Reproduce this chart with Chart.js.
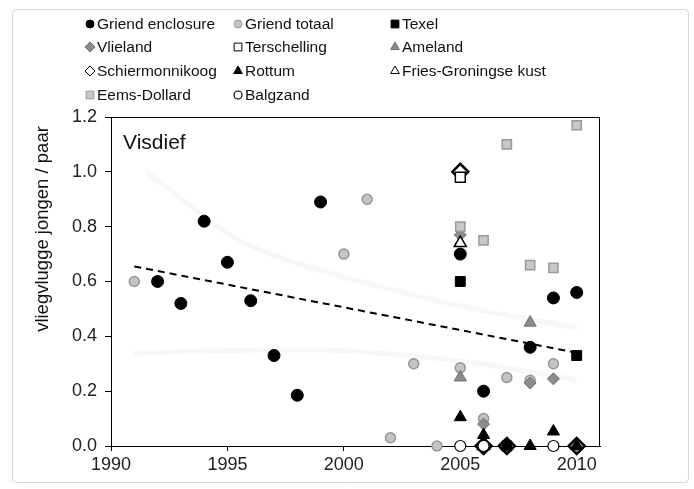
<!DOCTYPE html>
<html lang="nl">
<head>
<meta charset="UTF-8">
<title>Visdief — vliegvlugge jongen per paar</title>
<script src="https://cdn.jsdelivr.net/npm/chart.js@4.4.7/dist/chart.umd.min.js"></script>
<style>
*{box-sizing:border-box;margin:0;padding:0}
html,body{width:694px;height:489px;background:#fff;overflow:hidden}
.wrap{position:relative;width:694px;height:489px}
</style>
</head>
<body>
<div class="wrap"><canvas id="chart" width="694" height="489"></canvas></div>
<script>
// broedsucces per kolonie (vliegvlugge jongen / paar)
const griendEnclosureX = [1992, 1993, 1994, 1995, 1996, 1997, 1998, 1999, 2005, 2006, 2008, 2009, 2010];
const griendEnclosureY = [0.60, 0.52, 0.82, 0.67, 0.53, 0.33, 0.185, 0.89, 0.70, 0.20, 0.36, 0.54, 0.56];
const griendTotaalX = [1991, 2000, 2001, 2002, 2003, 2004, 2005, 2006, 2007, 2008, 2009];
const griendTotaalY = [0.60, 0.70, 0.90, 0.03, 0.30, 0.00, 0.285, 0.10, 0.25, 0.24, 0.30];
const texelX = [2005, 2007, 2010];
const texelY = [0.60, 0.00, 0.33];
const vlielandX = [2005, 2006, 2008, 2009, 2010];
const vlielandY = [0.77, 0.08, 0.23, 0.245, 0.00];
const terschellingX = [2005];
const terschellingY = [0.98];
const amelandX = [2005, 2008];
const amelandY = [0.25, 0.45];
const schiermonnikoogX = [2005, 2006, 2007, 2010];
const schiermonnikoogY = [1.00, 0.00, 0.00, 0.00];
const rottumX = [2005, 2006, 2007, 2008, 2009, 2010];
const rottumY = [0.105, 0.04, 0.00, 0.00, 0.053, 0.00];
const friesGroningseX = [2005, 2006];
const friesGroningseY = [0.74, 0.00];
const eemsDollardX = [2005, 2006, 2007, 2008, 2009, 2010];
const eemsDollardY = [0.80, 0.75, 1.10, 0.66, 0.65, 1.17];
const balgzandX = [2005, 2006, 2009];
const balgzandY = [0.00, 0.00, 0.00];

// trendlijn Griend enclosure
const trendX = [1991, 2010];
const trendY = [0.655, 0.34];

// vage lijnen op de achtergrond
const faintAX = [1991.5, 1996, 2004, 2010];
const faintAY = [1.00, 0.73, 0.53, 0.43];
const faintBX = [1991, 1999, 2005, 2010];
const faintBY = [0.34, 0.35, 0.31, 0.24];

const xTicks = [1990, 1995, 2000, 2005, 2010];

const FONT = '"Liberation Sans", Arial, Helvetica, sans-serif';

const series = [
  { label: 'Griend enclosure', x: griendEnclosureX, y: griendEnclosureY, shape: 'circle', r: 6, fill: '#000', stroke: '#000', lw: 1 },
  { label: 'Griend totaal', x: griendTotaalX, y: griendTotaalY, shape: 'circle', r: 5, fill: '#c4c4c4', stroke: '#969696', lw: 1.5 },
  { label: 'Texel', x: texelX, y: texelY, shape: 'rect', r: 7, fill: '#000', stroke: '#000', lw: 1 },
  { label: 'Vlieland', x: vlielandX, y: vlielandY, shape: 'rectRot', r: 6, fill: '#8c8c8c', stroke: '#6e6e6e', lw: 1 },
  { label: 'Terschelling', x: terschellingX, y: terschellingY, shape: 'rect', r: 7, fill: '#fff', stroke: '#000', lw: 1.5 },
  { label: 'Ameland', x: amelandX, y: amelandY, shape: 'triangle', r: 7, fill: '#8c8c8c', stroke: '#6e6e6e', lw: 1 },
  { label: 'Schiermonnikoog', x: schiermonnikoogX, y: schiermonnikoogY, shape: 'rectRot', r: 8, fill: '#fff', stroke: '#000', lw: 2.5, below: true },
  { label: 'Rottum', x: rottumX, y: rottumY, shape: 'triangle', r: 7, fill: '#000', stroke: '#000', lw: 1 },
  { label: 'Fries-Groningse kust', x: friesGroningseX, y: friesGroningseY, shape: 'triangle', r: 7, fill: '#fff', stroke: '#000', lw: 1.5 },
  { label: 'Eems-Dollard', x: eemsDollardX, y: eemsDollardY, shape: 'rect', r: 6.5, fill: '#c8c8c8', stroke: '#999', lw: 1.5 },
  { label: 'Balgzand', x: balgzandX, y: balgzandY, shape: 'circle', r: 5.5, fill: '#fff', stroke: '#000', lw: 1.2 },
];

const pts = (xs, ys) => xs.map((x, i) => ({ x, y: ys[i] }));

const datasets = series.map((s, i) => ({
  label: s.label,
  data: pts(s.x, s.y),
  pointStyle: s.shape,
  pointRadius: s.r,
  backgroundColor: s.fill,
  borderColor: s.stroke,
  borderWidth: s.lw,
  showLine: false,
  clip: false,
  order: s.below ? 40 : series.length - i,
}));

datasets.push({
  type: 'line', label: 'trend', data: pts(trendX, trendY),
  borderColor: '#000', borderWidth: 2, borderDash: [7, 5],
  pointRadius: 0, fill: false, order: 50,
});
datasets.push({
  type: 'line', label: 'faintA', data: pts(faintAX, faintAY),
  borderColor: 'rgba(0,0,0,0.03)', borderWidth: 5, tension: 0.3,
  pointRadius: 0, fill: false, order: 60,
});
datasets.push({
  type: 'line', label: 'faintB', data: pts(faintBX, faintBY),
  borderColor: 'rgba(0,0,0,0.03)', borderWidth: 5, tension: 0.3,
  pointRadius: 0, fill: false, order: 61,
});

function marker(ctx, shape, x, y, r, fill, stroke, lw) {
  ctx.save();
  ctx.beginPath();
  if (shape === 'circle') {
    ctx.arc(x, y, r, 0, Math.PI * 2);
  } else if (shape === 'rect') {
    const h = r * Math.SQRT1_2;
    ctx.rect(x - h, y - h, 2 * h, 2 * h);
  } else if (shape === 'rectRot') {
    ctx.moveTo(x, y - r); ctx.lineTo(x + r, y); ctx.lineTo(x, y + r); ctx.lineTo(x - r, y);
    ctx.closePath();
  } else if (shape === 'triangle') {
    ctx.moveTo(x, y - r);
    ctx.lineTo(x + r * Math.sin(Math.PI * 2 / 3), y - r * Math.cos(Math.PI * 2 / 3));
    ctx.lineTo(x + r * Math.sin(Math.PI * 4 / 3), y - r * Math.cos(Math.PI * 4 / 3));
    ctx.closePath();
  }
  ctx.fillStyle = fill;
  ctx.fill();
  ctx.lineWidth = lw;
  ctx.strokeStyle = stroke;
  ctx.stroke();
  ctx.restore();
}

// legenda in drie kolommen, titel, y-as titel en kader
const decorations = {
  id: 'decorations',
  beforeDatasetsDraw(chart) {
    const { ctx, chartArea: a } = chart;
    ctx.save();
    ctx.strokeStyle = '#000';
    ctx.lineWidth = 1;
    ctx.strokeRect(a.left + 0.5, a.top + 0.5, a.right - a.left - 1, a.bottom - a.top);
    ctx.restore();
  },
  afterDraw(chart) {
    const { ctx } = chart;
    ctx.save();
    // buitenkader
    ctx.strokeStyle = '#d6d6d6';
    ctx.lineWidth = 1;
    ctx.beginPath();
    ctx.roundRect(12.5, 9.5, 676, 473, 4);
    ctx.stroke();

    const colX = [90, 238, 395];
    const rowY = [24, 47, 71, 95];
    ctx.font = '15.5px ' + FONT;
    ctx.textBaseline = 'middle';
    series.forEach((s, i) => {
      const cx = colX[i % 3], cy = rowY[Math.floor(i / 3)];
      const r = s.shape === 'circle' ? 4 : s.shape === 'rect' ? 5.5 : 5;
      marker(ctx, s.shape, cx, cy, r, s.fill, s.stroke, s.lw > 1.4 ? 1 : s.lw);
      ctx.fillStyle = '#111';
      ctx.fillText(s.label, cx + 7, cy + 1);
    });

    ctx.font = '21px ' + FONT;
    ctx.fillText('Visdief', 123, 143);

    ctx.translate(43, 229);
    ctx.rotate(-Math.PI / 2);
    ctx.textAlign = 'center';
    ctx.font = '18.5px ' + FONT;
    ctx.fillText('vliegvlugge jongen / paar', 0, 0);
    ctx.restore();
  }
};

new Chart(document.getElementById('chart'), {
  type: 'scatter',
  data: { datasets },
  options: {
    responsive: false,
    animation: false,
    layout: { padding: { left: 0, right: 94, top: 117, bottom: 0 } },
    plugins: { legend: { display: false }, tooltip: { enabled: false } },
    scales: {
      x: {
        type: 'linear', min: 1990, max: 2011,
        afterFit: s => { s.height = 43; },
        afterBuildTicks: s => { s.ticks = xTicks.map(v => ({ value: v })); },
        ticks: { font: { family: FONT, size: 18 }, color: '#222', padding: 3, maxRotation: 0, callback: v => String(v) },
        grid: { display: true, drawOnChartArea: false, drawTicks: true, tickLength: 5, color: '#000' },
        border: { color: '#000', width: 1 },
      },
      y: {
        min: 0, max: 1.2,
        afterFit: s => { s.width = 111; },
        ticks: { stepSize: 0.2, font: { family: FONT, size: 18 }, color: '#222', padding: 8, callback: v => v.toFixed(1) },
        grid: { display: true, drawOnChartArea: false, drawTicks: true, tickLength: 6, color: '#000' },
        border: { color: '#000', width: 1 },
      },
    },
  },
  plugins: [decorations],
});
</script>
</body>
</html>
